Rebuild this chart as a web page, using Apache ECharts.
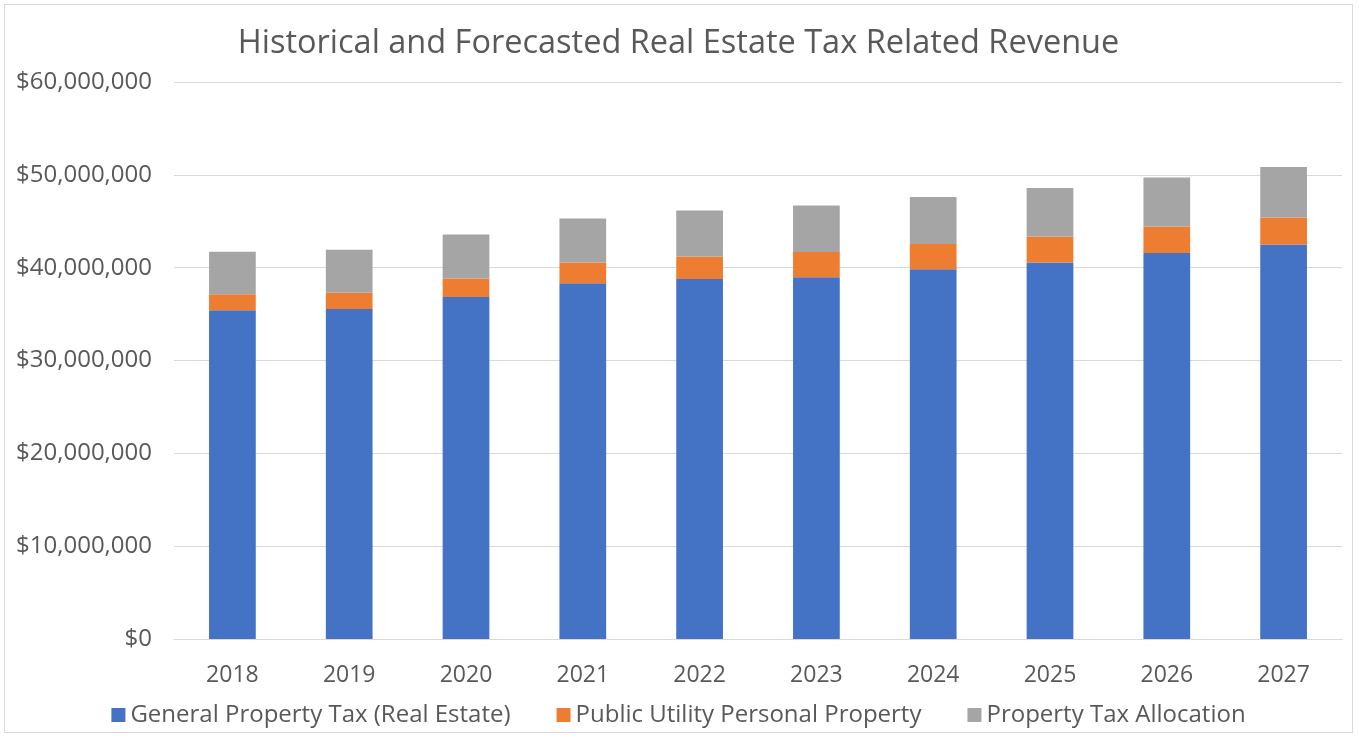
<!DOCTYPE html>
<html>
<head>
<meta charset="utf-8">
<script src="https://cdn.jsdelivr.net/npm/echarts@6/dist/echarts.min.js"></script>
<style>
html,body{margin:0;padding:0;background:#fff;}
#main{position:absolute;left:4px;top:4px;width:1349px;height:729px;border:1px solid #d9d9d9;box-sizing:border-box;}
</style>
</head>
<body>
<div id="main"></div>
<script>
// years on the x axis
var years = ['2018', '2019', '2020', '2021', '2022', '2023', '2024', '2025', '2026', '2027'];

// values (dollars)
var generalTax = [35420000, 35560000, 36850000, 38320000, 38780000, 38960000, 39820000, 40570000, 41570000, 42500000];
var publicUtility = [1720000, 1750000, 1970000, 2250000, 2430000, 2720000, 2720000, 2790000, 2860000, 2900000];
var allocation = [4580000, 4620000, 4750000, 4720000, 4940000, 5010000, 5080000, 5220000, 5290000, 5440000];

var fontName = 'Open Sans';
var textColor = '#595959';

var chart = echarts.init(document.getElementById('main'));

function money(v) {
    return '$' + String(v).replace(/\B(?=(\d{3})+(?!\d))/g, ',');
}

var option = {
    backgroundColor: '#fff',
    animation: false,
    title: {
        text: 'Historical and Forecasted Real Estate Tax Related Revenue',
        left: 'center',
        top: 17,
        textStyle: {
            fontFamily: fontName,
            fontSize: 32.5,
            fontWeight: 'normal',
            color: textColor
        }
    },
    legend: {
        bottom: 0,
        left: 'center',
        itemWidth: 14,
        itemHeight: 14,
        itemGap: 46,
        icon: 'rect',
        textStyle: {
            fontFamily: fontName,
            fontSize: 24,
            color: textColor
        },
        data: ['General Property Tax (Real Estate)', 'Public Utility Personal Property', 'Property Tax Allocation']
    },
    grid: {
        left: 169,
        right: 10,
        top: 77,
        bottom: 93
    },
    xAxis: {
        type: 'category',
        data: years,
        axisTick: {show: false},
        axisLine: {lineStyle: {color: '#d9d9d9'}},
        axisLabel: {
            fontFamily: fontName,
            fontSize: 23,
            color: textColor,
            margin: 25
        }
    },
    yAxis: {
        type: 'value',
        min: 0,
        max: 60000000,
        interval: 10000000,
        axisLine: {show: false},
        axisTick: {show: false},
        splitLine: {lineStyle: {color: '#d9d9d9', width: 1}},
        axisLabel: {
            fontFamily: fontName,
            fontSize: 24,
            color: textColor,
            margin: 22,
            formatter: money
        }
    },
    series: [
        {
            name: 'General Property Tax (Real Estate)',
            type: 'bar',
            stack: 'total',
            barWidth: '40%',
            itemStyle: {color: '#4472c4'},
            data: generalTax
        },
        {
            name: 'Public Utility Personal Property',
            type: 'bar',
            stack: 'total',
            itemStyle: {color: '#ed7d31'},
            data: publicUtility
        },
        {
            name: 'Property Tax Allocation',
            type: 'bar',
            stack: 'total',
            itemStyle: {color: '#a5a5a5'},
            data: allocation
        }
    ]
};

chart.setOption(option);

window.addEventListener('resize', function () {
    chart.resize();
});
</script>
</body>
</html>
